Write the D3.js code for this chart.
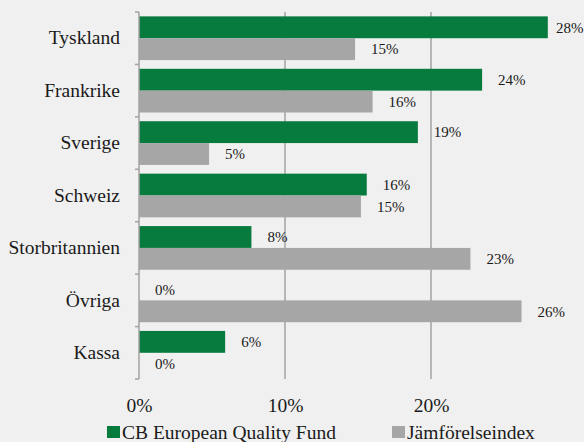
<!DOCTYPE html>
<html>
<head>
<meta charset="utf-8">
<script src="https://cdn.jsdelivr.net/npm/d3@7"></script>
<style>
  body { margin: 0; background: #f0f0f0; }
  text { font-family: "Liberation Serif", "DejaVu Serif", serif; fill: #1a1a1a; }
</style>
</head>
<body>
<div id="graphic"></div>
<script>
// data
let categories = ["Tyskland", "Frankrike", "Sverige", "Schweiz", "Storbritannien", "Övriga", "Kassa"];
let seriesNames = ["CB European Quality Fund", "Jämförelseindex"];
let fundValues = [0.280, 0.235, 0.191, 0.156, 0.077, 0.0, 0.059];
let indexValues = [0.148, 0.160, 0.048, 0.152, 0.227, 0.262, 0.0];
let xTicks = [0, 0.1, 0.2];
let colors = ["#077a3d", "#a6a6a6"];

let W = 584, H = 442;
let margin = {top: 12, right: 7, bottom: 63, left: 139};
let width = W - margin.left - margin.right;
let height = H - margin.top - margin.bottom;

let svg = d3.select("#graphic")
  .append("svg")
    .attr("width", W)
    .attr("height", H);

svg.append("rect").attr("width", W).attr("height", H).attr("fill", "#f0f0f0");

let g = svg.append("g")
    .attr("transform", "translate(" + margin.left + "," + margin.top + ")");

// build rows for the grouped bars
let rows = categories.map((c, i) => ({cat: c, vals: [fundValues[i], indexValues[i]]}));

let x = d3.scaleLinear()
  .domain([0, 0.3])
  .range([0, width]);

let y = d3.scaleBand()
  .domain(categories)
  .range([0, height])
  .padding(0);

let ySub = d3.scaleBand()
  .domain([0, 1])
  .range([0, y.bandwidth()])
  .paddingInner(0)
  .paddingOuter(0.2);

// gridlines
g.selectAll(".grid")
  .data(xTicks.filter(d => d > 0))
  .enter()
  .append("line")
    .attr("x1", d => x(d))
    .attr("x2", d => x(d))
    .attr("y1", 0)
    .attr("y2", height)
    .attr("stroke", "#a3a3a3")
    .attr("stroke-width", 1.5);

// bars
let groups = g.selectAll(".grp")
  .data(rows)
  .enter()
  .append("g")
    .attr("transform", d => "translate(0," + y(d.cat) + ")");

groups.selectAll("rect")
  .data(d => d.vals.map((v, k) => ({v: v, k: k})))
  .enter()
  .append("rect")
    .attr("x", 0)
    .attr("y", d => ySub(d.k))
    .attr("width", d => x(d.v))
    .attr("height", ySub.bandwidth())
    .attr("fill", d => colors[d.k]);

// data labels
let fmt = d3.format(".0%");
groups.selectAll(".lbl")
  .data(d => d.vals.map((v, k) => ({v: v, k: k})))
  .enter()
  .append("text")
    .attr("x", d => Math.min(x(d.v) + 16, W - margin.left - 28))
    .attr("y", d => ySub(d.k) + ySub.bandwidth() / 2)
    .attr("dy", "0.35em")
    .style("font-size", "15px")
    .attr("fill", "#262626")
    .text(d => fmt(d.v));

// left axis
let yAxis = g.append("g")
  .call(d3.axisLeft(y).tickSize(0).tickPadding(19));
yAxis.select(".domain").remove();
yAxis.selectAll("text")
  .style("font-size", "19.5px")
  .attr("fill", "#1a1a1a");

g.append("line")
  .attr("x1", 0).attr("x2", 0)
  .attr("y1", 0).attr("y2", height)
  .attr("stroke", "#a3a3a3")
  .attr("stroke-width", 1.5);

g.selectAll(".ytick")
  .data(d3.range(categories.length + 1))
  .enter()
  .append("line")
    .attr("x1", -4).attr("x2", 0)
    .attr("y1", i => i * y.step())
    .attr("y2", i => i * y.step())
    .attr("stroke", "#a3a3a3")
    .attr("stroke-width", 1.5);

// bottom axis labels
let xAxis = g.append("g")
  .attr("transform", "translate(0," + height + ")")
  .call(d3.axisBottom(x).tickValues(xTicks).tickFormat(fmt).tickSize(0).tickPadding(19));
xAxis.select(".domain").remove();
xAxis.selectAll("text")
  .style("font-size", "19.5px")
  .attr("fill", "#1a1a1a");

// legend
let legendX = [107, 392];
let legend = svg.selectAll(".legend")
  .data(seriesNames)
  .enter()
  .append("g")
    .attr("transform", (d, i) => "translate(" + legendX[i] + ",426)");

legend.append("rect")
  .attr("width", 13)
  .attr("height", 12)
  .attr("fill", (d, i) => colors[i]);

legend.append("text")
  .attr("x", 15)
  .attr("y", 12.5)
  .style("font-size", "19.5px")
  .text(d => d);
</script>
</body>
</html>
